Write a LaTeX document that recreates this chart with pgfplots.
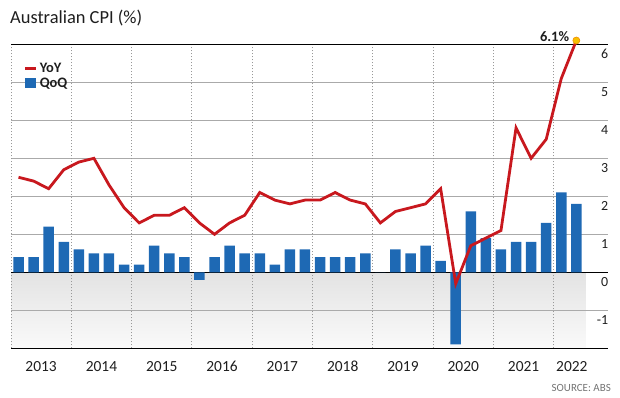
\documentclass[border=0pt]{standalone}
\usepackage{pgfplots}
\pgfplotsset{compat=1.18}
\usepackage{fontspec}
\setmainfont{Carlito}
\definecolor{cpired}{RGB}{200,24,30}
\definecolor{cpiblue}{RGB}{30,105,180}
\definecolor{dotfill}{RGB}{247,192,0}
\definecolor{dotedge}{RGB}{240,140,0}
\definecolor{gridgray}{RGB}{170,170,170}
\definecolor{txt}{RGB}{30,30,30}
\pgfplotstableread{
x qoq
0.5 0.4
1.5 0.4
2.5 1.2
3.5 0.8
4.5 0.6
5.5 0.5
6.5 0.5
7.5 0.2
8.5 0.2
9.5 0.7
10.5 0.5
11.5 0.4
12.5 -0.2
13.5 0.4
14.5 0.7
15.5 0.5
16.5 0.5
17.5 0.2
18.5 0.6
19.5 0.6
20.5 0.4
21.5 0.4
22.5 0.4
23.5 0.5
24.5 0.0
25.5 0.6
26.5 0.5
27.5 0.7
28.5 0.3
29.5 -1.9
30.5 1.6
31.5 0.9
32.5 0.6
33.5 0.8
34.5 0.8
35.5 1.3
36.5 2.1
37.5 1.8
}\qoqtable
\pgfplotstableread{
x yoy
0.5 2.5
1.5 2.4
2.5 2.2
3.5 2.7
4.5 2.9
5.5 3.0
6.5 2.3
7.5 1.7
8.5 1.3
9.5 1.5
10.5 1.5
11.5 1.7
12.5 1.3
13.5 1.0
14.5 1.3
15.5 1.5
16.5 2.1
17.5 1.9
18.5 1.8
19.5 1.9
20.5 1.9
21.5 2.1
22.5 1.9
23.5 1.8
24.5 1.3
25.5 1.6
26.5 1.7
27.5 1.8
28.5 2.2
29.5 -0.3
30.5 0.7
31.5 0.9
32.5 1.1
33.5 3.8
34.5 3.0
35.5 3.5
36.5 5.1
37.5 6.1
}\yoytable
\begin{document}
\begin{tikzpicture}
\node[anchor=base west, inner sep=0pt, font=\fontsize{18.5}{20}\selectfont, text=txt] at (10bp,374bp) {Australian CPI (\%)};
\node[anchor=base east, inner sep=0pt, font=\fontsize{11}{12}\selectfont, text=black!55] at (611bp,7bp) {SOURCE: ABS};
\begin{axis}[
  set layers,
  clip=false,
  at={(11bp,49.7bp)}, anchor=south west,
  scale only axis, width=597bp, height=304bp,
  xmin=0, xmax=39.6, ymin=-2, ymax=6,
  axis line style={draw=none},
  major tick length=0pt,
  xtick={2,6,10,14,18,22,26,30,34,37.2},
  xticklabels={2013,2014,2015,2016,2017,2018,2019,2020,2021,2022},
  xticklabel style={anchor=base, inner sep=0pt, yshift=-22.7bp, font=\fontsize{15.5}{16}\selectfont, text=txt},
  ytick={-1,0,1,2,3,4,5,6},
  yticklabels={-1,0,1,2,3,4,5,6},
  yticklabel pos=right,
  yticklabel style={anchor=base east, inner sep=0pt, xshift=0.5bp, yshift=-14.3bp, font=\fontsize{14}{15}\selectfont, text=txt},
  ymajorgrids=true,
  major grid style={gridgray, line width=1bp},
  extra y ticks={-2,0,6},
  extra y tick labels={},
  extra y tick style={ymajorgrids=true, major grid style={black, line width=1.3bp}},
  extra x ticks={0,4,8,12,16,20,24,28,32,36},
  extra x tick labels={},
  extra x tick style={xmajorgrids=true, major grid style={gray!80, line width=0.9bp, dash pattern=on 0.9bp off 2.1bp}},
  legend style={at={(0.0218,0.937)}, anchor=north west, draw=none, fill=none, inner sep=0pt, outer sep=0pt, row sep=5.4pt, column sep=2bp, nodes={inner sep=0pt, text depth=0pt, font=\bfseries\fontsize{14.5}{15}\selectfont, text=txt}},
  legend cell align=left,
]
\addplot[draw=none, top color=black!11, bottom color=black!2, on layer=axis background, forget plot] coordinates {(0,-2) (38.1,-2)} \closedcycle;
\addlegendimage{cpired, line width=2.8bp, legend image code/.code={\draw[cpired, line width=2.8bp] (0bp,0bp) -- (11bp,0bp);}}
\addlegendentry{YoY}
\addplot[ybar, bar width=10.5bp, bar shift=0pt, fill=cpiblue, draw=none, legend image code/.code={\fill[cpiblue] (0bp,-5bp) rectangle (10.5bp,5bp);}] table[x=x, y=qoq] {\qoqtable};
\addlegendentry{QoQ}
\addplot[cpired, line width=2.8bp, forget plot] table[x=x, y=yoy] {\yoytable};
\addplot[only marks, mark=*, mark size=3.5bp, mark options={fill=dotfill, draw=dotedge, line width=0.6bp}, forget plot,
  nodes near coords, point meta=explicit symbolic,
  nodes near coords style={anchor=base east, inner sep=0pt, xshift=-7bp, yshift=-1bp, font=\bfseries\fontsize{14.5}{15}\selectfont, text=txt}]
  coordinates {(37.5,6.1) [6.1\%]};
\end{axis}
\pgfresetboundingbox
\path[use as bounding box] (0,0) rectangle (620bp,398bp);
\end{tikzpicture}
\end{document}
